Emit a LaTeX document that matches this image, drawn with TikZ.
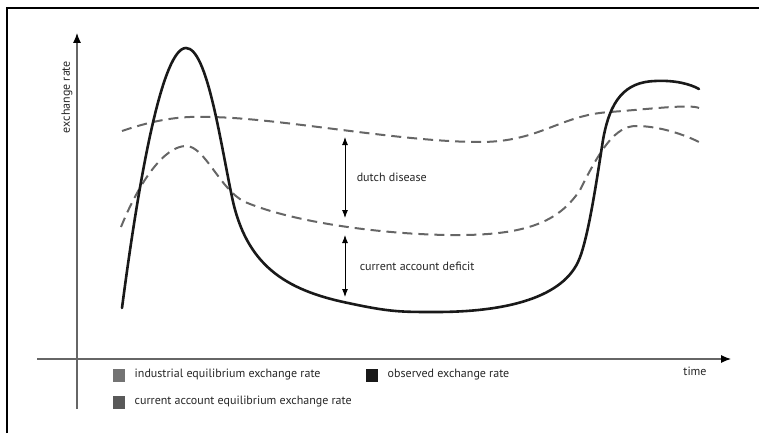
\documentclass[tikz,border=0pt]{standalone}
\usepackage{fontspec}
\setmainfont{PT Sans}
\usetikzlibrary{arrows.meta,positioning}

\begin{document}
\begin{tikzpicture}[x=1pt,y=-1pt,font=\fontsize{12}{14}\selectfont,
  axis/.style={draw=black!60,line width=1.1pt,-{Latex[length=10pt,width=8pt,black]}},
  observed/.style={black!90,line width=2.6pt,line cap=round},
  equil/.style={black!60,line width=2pt,dash pattern=on 10pt off 6pt},
  gap/.style={{Latex[length=8pt,width=6pt]}-{Latex[length=8pt,width=6pt]},line width=0.9pt},
  legendbox/.style={minimum width=12pt,minimum height=13pt,inner sep=0pt},
  every node/.style={text=black!85}]

  \useasboundingbox (0,0) rectangle (759,433);
  \draw[line width=1.5pt] (7,433) -- (7,8) -- (759,8);

  \coordinate (xs) at (37,359);
  \coordinate (xe) at (731,359);
  \coordinate (ys) at (77,409);
  \coordinate (ye) at (77,33);
  \draw[axis] (xs) -- (xe);
  \draw[axis] (ys) -- (ye);
  \node[rotate=90] (ylab) at (67,97) {exchange rate};
  \node (xlab) at (695,371) {time};

  \draw[equil] (122,131) .. controls (160,118) and (185,116) .. (210,117)
    .. controls (280,118) and (400,142) .. (480,142)
    .. controls (540,142) and (560,115) .. (610,112)
    .. controls (650,109) and (690,104) .. (699,108);
  \draw[equil] (121,227) .. controls (140,180) and (165,146) .. (186,146)
    .. controls (205,146) and (220,190) .. (245,202)
    .. controls (300,225) and (400,236) .. (465,235)
    .. controls (530,234) and (560,220) .. (580,190)
    .. controls (600,150) and (615,126) .. (636,126)
    .. controls (660,126) and (685,135) .. (699,142);
  \draw[observed] (122,308) .. controls (140,170) and (163,48) .. (186,48)
    .. controls (207,48) and (220,140) .. (232,197)
    .. controls (246,265) and (285,290) .. (348,303)
    .. controls (390,312) and (400,312) .. (436,312)
    .. controls (500,312) and (560,300) .. (578,262)
    .. controls (588,241) and (597,178) .. (603,140)
    .. controls (610,100) and (625,82) .. (655,81)
    .. controls (675,80) and (690,84) .. (699,89);

  \coordinate (dd1) at (345,137);
  \coordinate (dd2) at (345,218);
  \coordinate (ca1) at (345,235);
  \coordinate (ca2) at (345,297);
  \draw[gap] (dd1) -- (dd2) node[midway,right=8pt] (ddlab) {dutch disease};
  \draw[gap] (ca1) -- (ca2) node[midway,right=11pt] (calab) {current account deficit};

  \node[legendbox,fill=black!55] (k1) at (119,375) {};
  \node[right=6pt of k1] (t1) {industrial equilibrium exchange rate};
  \node[legendbox,fill=black!65] (k2) at (119,402) {};
  \node[right=6pt of k2] (t2) {current account equilibrium exchange rate};
  \node[legendbox,fill=black!90] (k3) at (372,375) {};
  \node[right=6pt of k3] (t3) {observed exchange rate};
\end{tikzpicture}
\end{document}
